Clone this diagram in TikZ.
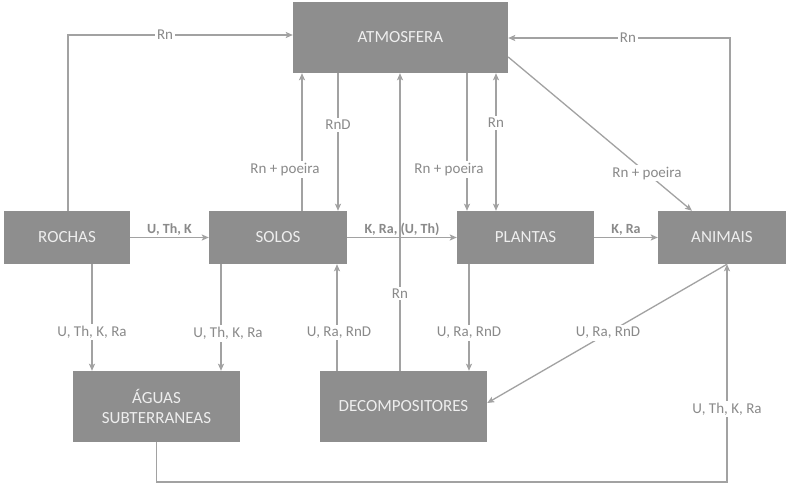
\documentclass[tikz,border=0pt]{standalone}
\usepackage{fontspec}
\setmainfont{Carlito}
\usetikzlibrary{arrows.meta}
\definecolor{boxfill}{HTML}{8E8E8E}
\definecolor{boxtext}{HTML}{EEEEEE}
\definecolor{linecol}{HTML}{A2A2A2}
\definecolor{lblcol}{HTML}{8A8A8A}
\tikzset{
  box/.style={draw=none, fill=boxfill, text=boxtext, font=\fontsize{17}{20}\selectfont, align=center, inner sep=0pt},
  arr/.style={draw=linecol, line width=1.3pt, -{Stealth[length=7pt,width=6pt,inset=1.5pt]}},
  darr/.style={draw=linecol, line width=1.3pt, {Stealth[length=7pt,width=6pt,inset=1.5pt]}-{Stealth[length=7pt,width=6pt,inset=1.5pt]}},
  lbl/.style={fill=white, text=lblcol, font=\fontsize{15}{17}\selectfont, inner sep=2pt},
  hlbl/.style={text=lblcol, font=\bfseries\fontsize{14}{17}\selectfont, inner sep=1.5pt, above},
}
\begin{document}
\begin{tikzpicture}[x=1pt,y=-1pt]
\useasboundingbox (0,0) rectangle (788,484);
\fill[white] (0,0) rectangle (788,484);
% boxes
\node[box, minimum width=215pt, minimum height=71pt] (atmos) at (400.5,37.5) {ATMOSFERA};
\node[box, minimum width=126pt, minimum height=53pt] (rochas) at (67,237.5) {ROCHAS};
\node[box, minimum width=138pt, minimum height=53pt] (solos) at (278,237.5) {SOLOS};
\node[box, minimum width=137pt, minimum height=53pt] (plantas) at (525.5,237.5) {PLANTAS};
\node[box, minimum width=128pt, minimum height=53pt] (animais) at (722,237.5) {ANIMAIS};
\node[box, minimum width=167pt, minimum height=71pt] (aguas) at (156.5,406.5) {ÁGUAS\\SUBTERRANEAS};
\node[box, minimum width=167pt, minimum height=71pt] (decomp) at (403.5,406.5) {DECOMPOSITORES};
% helper x positions
\coordinate (x68) at (68,0);
\coordinate (x730) at (730,0);
\coordinate (x302) at (302,0);
\coordinate (x338) at (338,0);
\coordinate (x467) at (467,0);
\coordinate (x496) at (496,0);
\coordinate (x400) at (400,0);
\coordinate (x92) at (92,0);
\coordinate (x221) at (221,0);
\coordinate (x337) at (337,0);
\coordinate (x469) at (469,0);
\coordinate (x727) at (727,0);
\coordinate (y35) at (0,35);
\coordinate (y38) at (0,38);
\coordinate (y57) at (0,57);
\coordinate (x692) at (692,0);
\coordinate (y403) at (0,403);
\coordinate (y482) at (0,482);
% connectors
\draw[arr] (x68 |- rochas.north) |- node[lbl, pos=0.716] {Rn} (atmos.west |- y35);
\draw[arr] (x730 |- animais.north) |- node[lbl, pos=0.73] {Rn} (atmos.east |- y38);
\draw[arr] (x302 |- solos.north) -- node[lbl, pos=0.30, xshift=-17pt] {Rn + poeira} (x302 |- atmos.south);
\draw[arr] (x338 |- atmos.south) -- node[lbl, pos=0.377] {RnD} (x338 |- solos.north);
\draw[arr] (x467 |- atmos.south) -- node[lbl, pos=0.70, xshift=-18pt] {Rn + poeira} (x467 |- plantas.north);
\draw[darr] (x496 |- atmos.south) -- node[lbl, pos=0.36] {Rn} (x496 |- plantas.north);
\draw[arr] (atmos.east |- y57) -- node[lbl, pos=0.755] {Rn + poeira} (x692 |- animais.north);
\draw[arr] (x400 |- decomp.north) -- node[lbl, pos=0.26] {Rn} (x400 |- atmos.south);
\draw[arr] (rochas.east) -- node[hlbl] {U, Th, K} (solos.west);
\draw[arr] (solos.east) -- node[hlbl] {K, Ra, (U, Th)} (plantas.west);
\draw[arr] (plantas.east) -- node[hlbl] {K, Ra} (animais.west);
\draw[arr] (x92 |- rochas.south) -- node[lbl, pos=0.635] {U, Th, K, Ra} (x92 |- aguas.north);
\draw[arr] (x221 |- solos.south) -- node[lbl, pos=0.65, xshift=7pt] {U, Th, K, Ra} (x221 |- aguas.north);
\draw[arr] (x337 |- decomp.north) -- node[lbl, pos=0.36, xshift=2pt] {U, Ra, RnD} (x337 |- solos.south);
\draw[arr] (x469 |- plantas.south) -- node[lbl, pos=0.645] {U, Ra, RnD} (x469 |- decomp.north);
\draw[arr] (x727 |- animais.south) -- node[lbl, pos=0.496] {U, Ra, RnD} (decomp.east |- y403);
\draw[arr] (aguas.south) -- (aguas.south |- y482) -| node[lbl, pos=0.667] {U, Th, K, Ra} (x727 |- animais.south);
\end{tikzpicture}
\end{document}
